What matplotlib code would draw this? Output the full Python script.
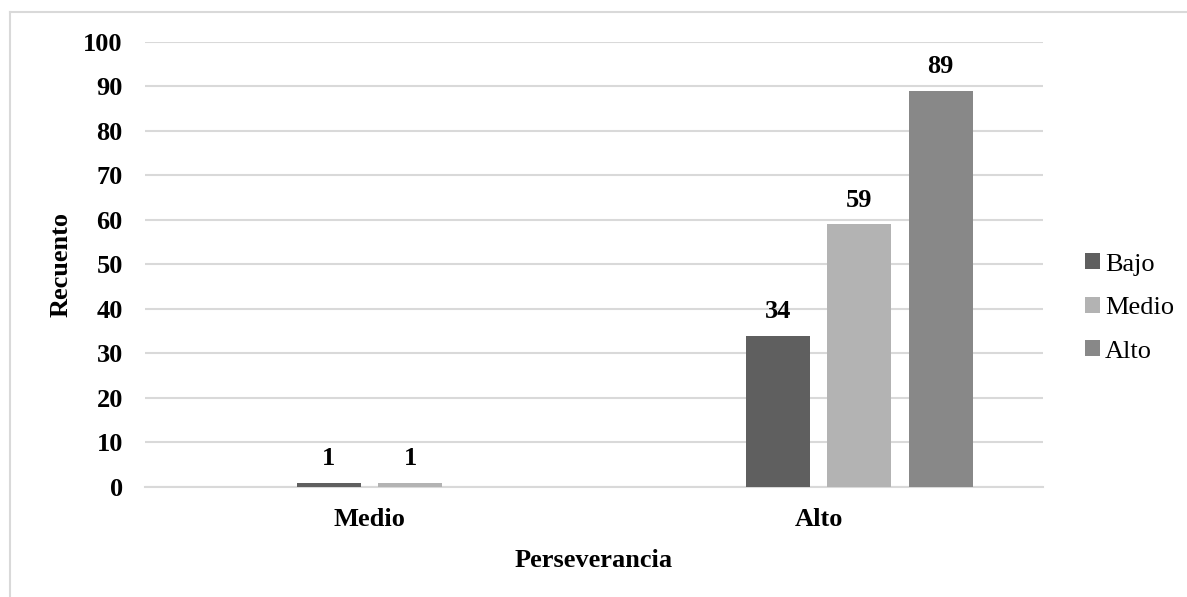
import numpy as np
import matplotlib
matplotlib.use('Agg')
import matplotlib.pyplot as plt
from matplotlib.lines import Line2D

plt.rcParams['font.family'] = 'Liberation Serif'

categorias = ['Medio', 'Alto']
series = ['Bajo', 'Medio', 'Alto']
valores = {
    'Bajo': [1, 34],
    'Medio': [1, 59],
    'Alto': [0, 89],
}
colores = ['#5f5f5f', '#b3b3b3', '#888888']

fig = plt.figure(figsize=(11.87, 5.97), dpi=100)
ax = fig.add_axes([0.1222, 0.1843, 0.7565, 0.7454])

x = np.arange(len(categorias))
ancho = 0.1425
paso = 0.1815

# cuatro huecos por grupo; el primero queda vacío
for i, (serie, color) in enumerate(zip(series, colores)):
    pos = x + (i - 0.5) * paso
    vals = valores[serie]
    ax.bar(pos, vals, width=ancho, color=color, label=serie, zorder=3)
    for p, v in zip(pos, vals):
        if v > 0:
            ax.text(p, v + 4, str(v), ha='center', va='baseline',
                    fontsize=19, fontweight='bold')

ax.set_xlim(-0.5, 1.5)
ax.set_ylim(0, 100)
ax.set_yticks(range(0, 101, 10))
ax.set_xticks(x)
ax.set_xticklabels(categorias, fontsize=19, fontweight='bold')
for lbl in ax.get_yticklabels():
    lbl.set_fontsize(19)
    lbl.set_fontweight('bold')
ax.tick_params(axis='y', length=0, pad=16)
ax.tick_params(axis='x', length=0, pad=15)
ax.grid(axis='y', color='#d9d9d9', linewidth=1.5, zorder=0)
for s in ['top', 'right', 'left']:
    ax.spines[s].set_visible(False)
ax.spines['bottom'].set_color('#d9d9d9')
ax.spines['bottom'].set_linewidth(1.5)

ax.set_ylabel('Recuento', fontsize=19, fontweight='bold', labelpad=8)
ax.set_xlabel('Perseverancia', fontsize=19, fontweight='bold', labelpad=13)

leg = fig.legend(*ax.get_legend_handles_labels(), loc='center left',
                 bbox_to_anchor=(1085 / 1187, 1 - 308 / 597), frameon=False,
                 fontsize=19, handlelength=0.55, handleheight=0.55,
                 handletextpad=0.2, labelspacing=0.8, borderpad=0,
                 borderaxespad=0)

# marco del área del gráfico
fig.add_artist(Line2D([10 / 1187, 10 / 1187], [0, 1 - 12 / 597],
                      color='#d9d9d9', linewidth=1.5))
fig.add_artist(Line2D([10 / 1187, 1], [1 - 12 / 597, 1 - 12 / 597],
                      color='#d9d9d9', linewidth=1.5))

fig.savefig('out.png', dpi=100)
